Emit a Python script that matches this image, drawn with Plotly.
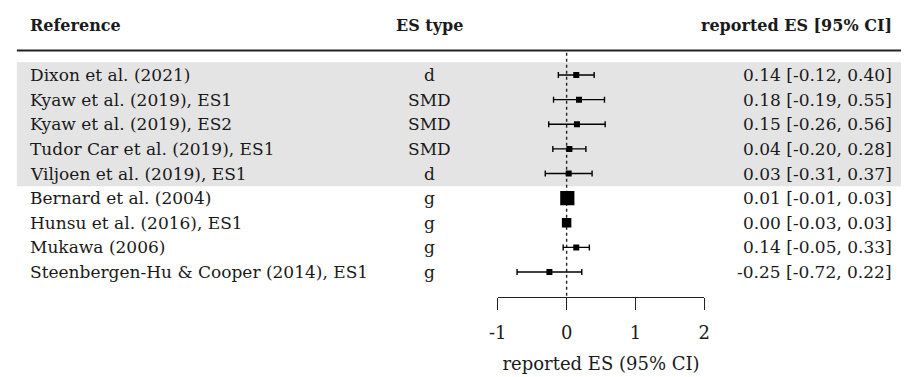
import plotly.graph_objects as go
import numpy as np

studies = [
    "Dixon et al. (2021)",
    "Kyaw et al. (2019), ES1",
    "Kyaw et al. (2019), ES2",
    "Tudor Car et al. (2019), ES1",
    "Viljoen et al. (2019), ES1",
    "Bernard et al. (2004)",
    "Hunsu et al. (2016), ES1",
    "Mukawa (2006)",
    "Steenbergen-Hu & Cooper (2014), ES1",
]
es_types = ["d", "SMD", "SMD", "SMD", "d", "g", "g", "g", "g"]
es = [0.14, 0.18, 0.15, 0.04, 0.03, 0.01, 0.00, 0.14, -0.25]
ci_lo = [-0.12, -0.19, -0.26, -0.20, -0.31, -0.01, -0.03, -0.05, -0.72]
ci_hi = [0.40, 0.55, 0.56, 0.28, 0.37, 0.03, 0.03, 0.33, 0.22]
highlighted = [True, True, True, True, True, False, False, False, False]
x_ticks = [-1, 0, 1, 2]
headers = ["Reference", "ES type", "reported ES [95% CI]"]
axis_title = "reported ES (95% CI)"

W, H = 907, 377
FONT = "DejaVu Serif"
TXT = "#1a1a1a"
FS = 17

rows = list(range(len(studies)))
es_arr = np.array(es)
lo_arr = np.array(ci_lo)
hi_arr = np.array(ci_hi)
se = (hi_arr - lo_arr) / 3.92
sizes = np.clip(0.145 / se, 6, None)

fig = go.Figure()

fig.add_trace(go.Scatter(
    x=es, y=rows, mode="markers",
    marker=dict(symbol="square", size=sizes, color="black", opacity=1, line=dict(width=0)),
    error_x=dict(type="data", symmetric=False,
                 array=(hi_arr - es_arr).tolist(),
                 arrayminus=(es_arr - lo_arr).tolist(),
                 color="black", thickness=1.4, width=3),
    showlegend=False, hoverinfo="skip",
))

ann = []
px = lambda p: p / W
hdr_row = -2.03
hdr_font = dict(family=FONT, size=16, color=TXT)
ann.append(dict(x=px(19), y=hdr_row, xref="paper", yref="y", text="<b>%s</b>" % headers[0],
                xanchor="left", showarrow=False, font=hdr_font))
ann.append(dict(x=px(428), y=hdr_row, xref="paper", yref="y", text="<b>%s</b>" % headers[1],
                xanchor="center", showarrow=False, font=hdr_font))
ann.append(dict(x=px(900), y=hdr_row, xref="paper", yref="y", text="<b>%s</b>" % headers[2],
                xanchor="right", showarrow=False, font=hdr_font))
for i, r in enumerate(rows):
    ann.append(dict(x=px(19), y=r, xref="paper", yref="y", text=studies[i],
                    xanchor="left", showarrow=False))
    ann.append(dict(x=px(428), y=r, xref="paper", yref="y", text=es_types[i],
                    xanchor="center", showarrow=False))
    ann.append(dict(x=px(900), y=r, xref="paper", yref="y",
                    text=f"{es[i]:.2f} [{ci_lo[i]:.2f}, {ci_hi[i]:.2f}]",
                    xanchor="right", showarrow=False))

shapes = []
hl_rows = [r for r, h in zip(rows, highlighted) if h]
shapes.append(dict(type="rect", xref="paper", yref="y", x0=px(8), x1=1,
                   y0=min(hl_rows) - 0.52, y1=max(hl_rows) + 0.52,
                   fillcolor="#e4e4e4", line=dict(width=0), layer="below"))
shapes.append(dict(type="line", xref="paper", yref="y", x0=px(8), x1=1,
                   y0=-0.99, y1=-0.99, line=dict(color="#222222", width=2)))
shapes.append(dict(type="line", xref="x", yref="y", x0=0, x1=0,
                   y0=-0.9, y1=9.02, line=dict(color="#222222", width=1.4, dash="dot"),
                   layer="below"))

y_top = -75 / 24.625
y_bot = (H - 75) / 24.625

fig.update_layout(
    width=W, height=H,
    margin=dict(l=0, r=0, t=0, b=0),
    paper_bgcolor="white", plot_bgcolor="rgba(0,0,0,0)",
    font=dict(family=FONT, size=FS, color=TXT),
    annotations=ann, shapes=shapes,
    xaxis=dict(domain=[px(497), px(707)], range=[-1, 2], tickvals=x_ticks,
               ticktext=[str(t) for t in x_ticks],
               ticks="outside", ticklen=12, tickwidth=1.4, tickcolor="#222222",
               ticklabelstandoff=7,
               showline=True, linewidth=1.4, linecolor="#222222",
               showgrid=False, zeroline=False, anchor="free", position=1 - 297 / H,
               tickfont=dict(family=FONT, size=18, color=TXT),
               title=dict(text=axis_title, font=dict(family=FONT, size=18, color=TXT), standoff=15)),
    yaxis=dict(domain=[0, 1], range=[y_bot, y_top], visible=False),
)

fig.write_html("out.html")
